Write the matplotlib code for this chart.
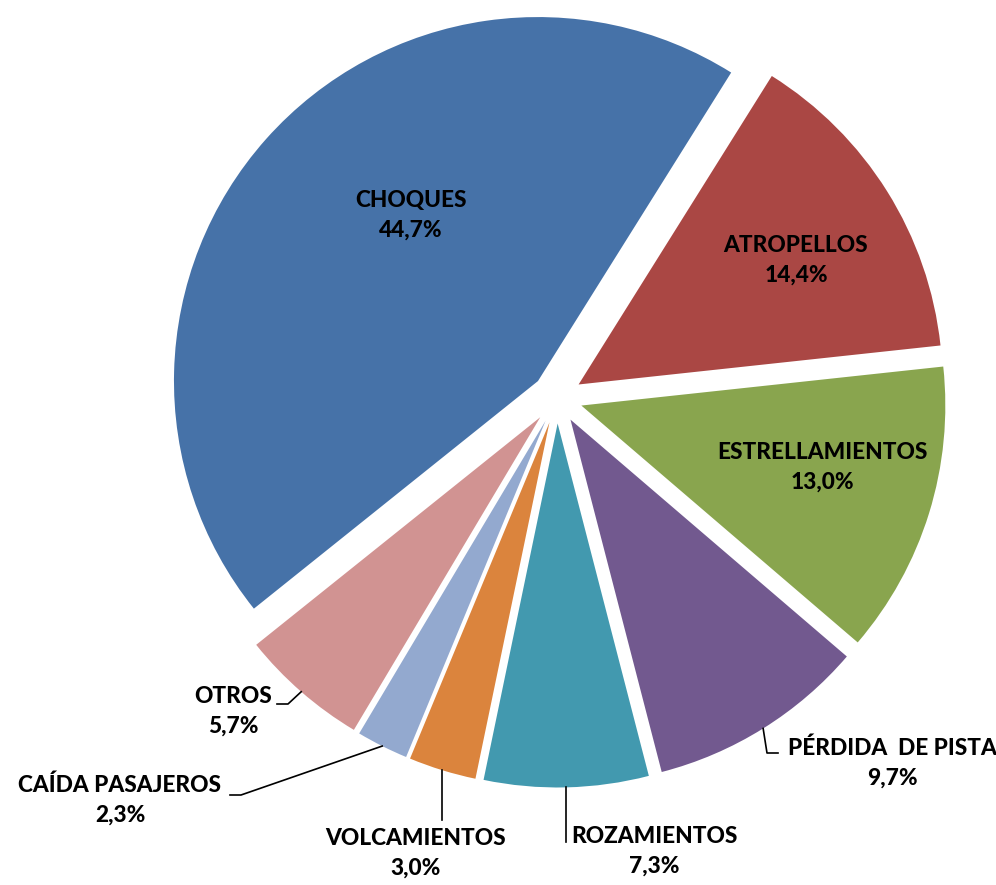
import numpy as np
import matplotlib
matplotlib.use("Agg")
import matplotlib.pyplot as plt

# accident types and their share (%)
categorias = ["CHOQUES", "ATROPELLOS", "ESTRELLAMIENTOS", "PÉRDIDA  DE PISTA",
              "ROZAMIENTOS", "VOLCAMIENTOS", "CAÍDA PASAJEROS", "OTROS"]
porcentajes = [44.7, 14.4, 13.0, 9.7, 7.3, 3.0, 2.3, 5.7]
colores = ["#4672A8", "#AA4744", "#89A54E", "#72598F",
           "#4299AF", "#DB843D", "#93A9CF", "#D19392"]

W, H = 996, 885
CX, CY, R = 557, 398, 364  # pie centre and radius in pixels

def px(x, y):
    # pixel position -> data units (radius = 1)
    return (x - CX) / R, (CY - y) / R

# label block centres, and leader-line elbow/end (None = label sits inside)
pos_etiquetas = [(411, 215), (796, 260), (822, 467), (892, 763),
                 (654, 851), (416, 853), (120, 800), (233, 711)]
guias = [None, None, None,
         [(767, 753), (778, 753)],
         [(None, 842)],
         [(None, 820)],
         [(241, 795), (230, 795)],
         [(288, 704), (277, 704)]]

fig = plt.figure(figsize=(W / 100, H / 100), dpi=100)
ax = fig.add_axes([0, 0, 1, 1])

wedges, _ = ax.pie(porcentajes, colors=colores, startangle=218.7, counterclock=False,
                   explode=[0.07] * len(porcentajes), radius=1.0)
ax.set_xlim(-CX / R, (W - CX) / R)
ax.set_ylim(-(H - CY) / R, CY / R)
ax.axis("off")

for w, nombre, val, (lx, ly), guia in zip(wedges, categorias, porcentajes,
                                           pos_etiquetas, guias):
    tx, ty = px(lx, ly)
    ax.text(tx, ty, f"{nombre}\n{val:.1f}%".replace(".", ","), ha="center", va="center",
            multialignment="center", fontsize=16.3, fontweight=900,
            family=["Lato", "DejaVu Sans"], linespacing=1.5, color="black")
    if guia is None:
        continue
    # leader starts on the arc at the middle of the wedge
    ang = np.deg2rad((w.theta1 + w.theta2) / 2)
    sx = w.center[0] + w.r * np.cos(ang)
    sy = w.center[1] + w.r * np.sin(ang)
    xs, ys = [sx], [sy]
    for gx, gy in guia:
        dx, dy = px(gx if gx is not None else 0, gy)
        xs.append(sx if gx is None else dx)
        ys.append(dy)
    ax.plot(xs, ys, color="black", lw=1.2)

fig.savefig("out.png", dpi=100)
